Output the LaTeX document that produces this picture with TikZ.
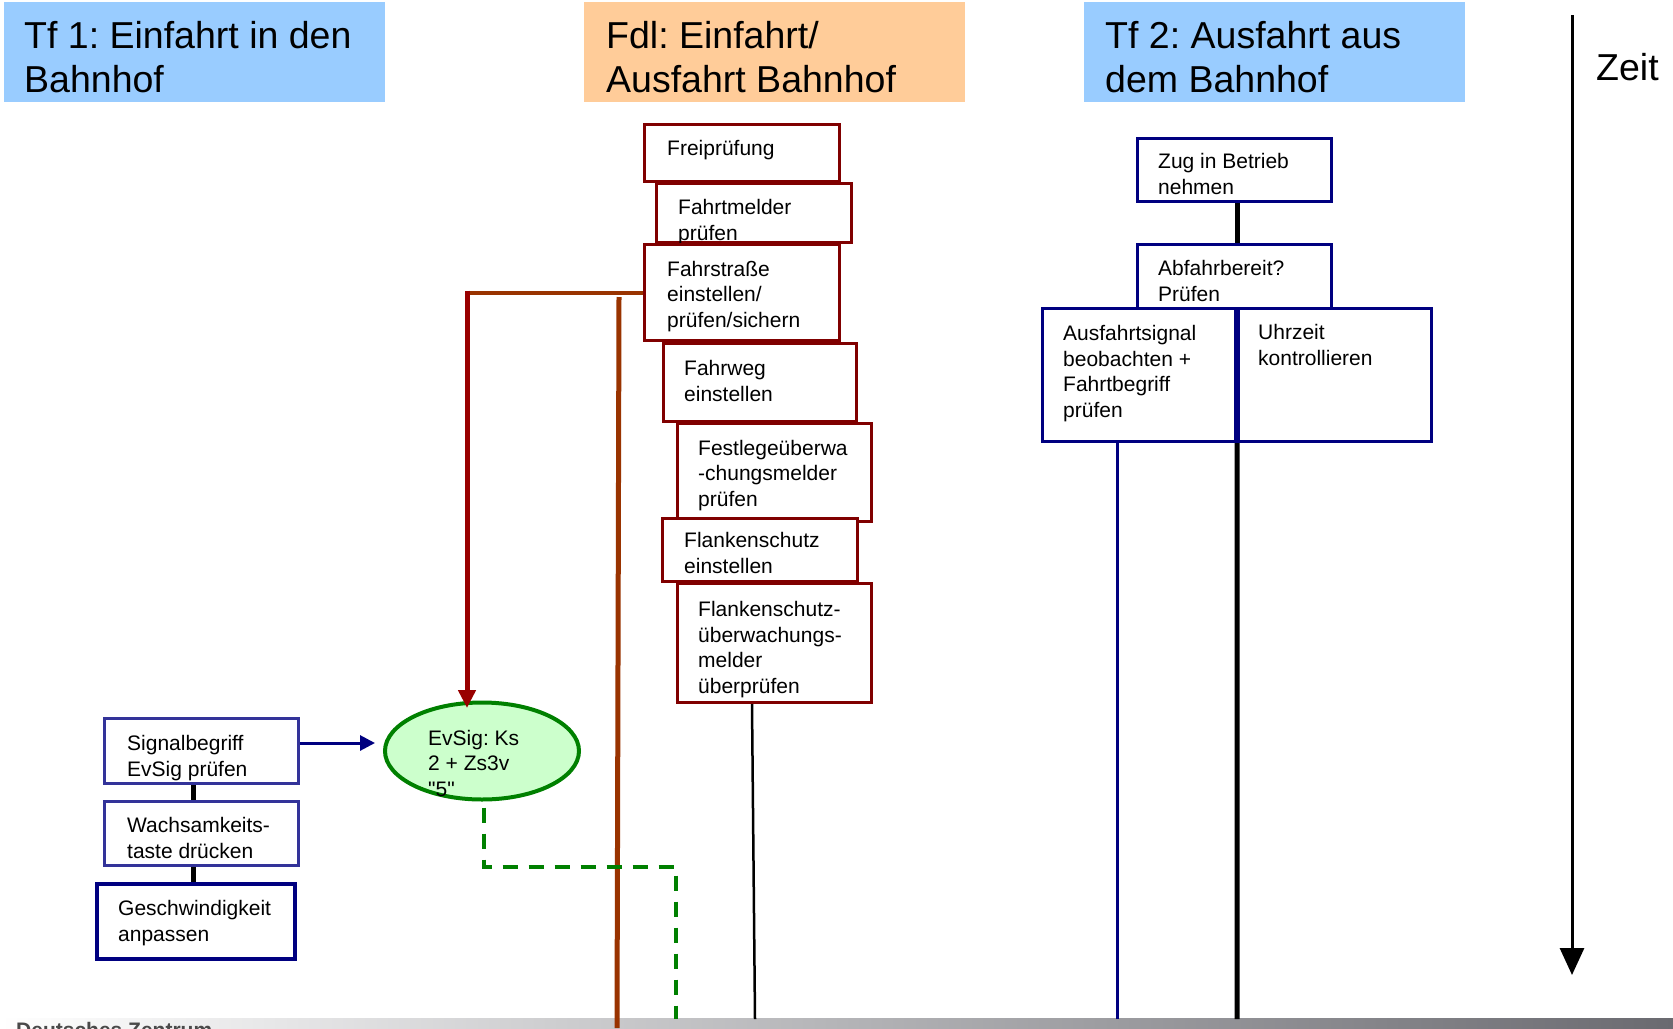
\documentclass[tikz,border=0pt]{standalone}
\usepackage{fontspec}
\setmainfont{Liberation Sans}
\newfontfamily\qfont{Liberation Sans}
\frenchspacing
\usetikzlibrary{arrows.meta,shapes.geometric}
\definecolor{hblue}{HTML}{99CCFF}
\definecolor{horange}{HTML}{FFCC99}
\definecolor{maroonc}{HTML}{800000}
\definecolor{navyc}{HTML}{000080}
\definecolor{lbluec}{HTML}{333399}
\definecolor{brownc}{HTML}{993300}
\definecolor{redc}{HTML}{990000}
\definecolor{greenc}{HTML}{008000}
\definecolor{lgreenc}{HTML}{CCFFCC}
\definecolor{footdark}{HTML}{6A6A70}
\definecolor{foottext}{HTML}{4A4A4A}
\begin{document}
\begin{tikzpicture}[x=1pt,y=-1pt,
  hdbox/.style={draw=none,inner sep=0pt,minimum width=381pt,minimum height=100pt},
  hdtxt/.style={anchor=base west,inner sep=0pt,align=left,font=\fontsize{37.5}{44}\selectfont\frenchspacing},
  txt/.style={anchor=base west,inner sep=0pt,align=left,font=\fontsize{21}{25.5}\selectfont\frenchspacing},
  fbox/.style={draw=maroonc,fill=white,line width=3.3pt,inner sep=0pt},
  tbox/.style={draw=navyc,fill=white,line width=3.3pt,inner sep=0pt},
  lbox/.style={draw=lbluec,fill=white,line width=3pt,inner sep=0pt},
  conn/.style={draw=black,line width=5pt}]
\useasboundingbox[fill=white] (0,0) rectangle (1673,1028);

% headers (text anchored at the baseline of the last line)
\node[hdbox,fill=hblue] (h1) at (194,52) {};
\node[hdtxt] (h1t) at (24,92) {Tf 1: Einfahrt in den\\Bahnhof};
\node[hdbox,fill=horange] (h2) at (774.5,52) {};
\node[hdtxt] (h2t) at (606,92) {Fdl: Einfahrt/\\Ausfahrt Bahnhof};
\node[hdbox,fill=hblue] (h3) at (1274.5,52) {};
\node[hdtxt] (h3t) at (1105,92) {Tf 2: Ausfahrt aus\\dem Bahnhof};

% time axis
\coordinate (zt) at (1572,15);
\coordinate (zb) at (1572,975);
\draw[line width=3pt,-{Triangle[length=27pt,width=24pt]}] (zt) -- (zb);
\node[hdtxt] (zeit) at (1596,80) {Zeit};

% footer
\shade[left color=white,right color=footdark] (0,1018) rectangle (1673,1028);
\node[anchor=base west,inner sep=0pt,font=\bfseries\fontsize{21}{25}\selectfont,text=foottext] (foot) at (16,1037) {Deutsches Zentrum};

% Fdl column
\node[fbox,minimum width=195pt,minimum height=57pt] (fr) at (742,153) {};
\node[txt] (frt) at (667,155) {Freiprüfung};
\node[fbox,minimum width=195pt,minimum height=59pt] (fm) at (754,213) {};
\node[txt] (fmt) at (678,240) {Fahrtmelder\\prüfen};
\node[fbox,minimum width=195pt,minimum height=96pt] (fs) at (742,292.5) {};
\node[txt] (fst) at (667,327) {Fahrstraße\\einstellen/\\prüfen/sichern};
\node[fbox,minimum width=193pt,minimum height=78pt] (fw) at (760,382.5) {};
\node[txt] (fwt) at (684,401) {Fahrweg\\einstellen};
\node[fbox,minimum width=194pt,minimum height=98pt] (fl) at (774.5,472.5) {};
\node[txt] (flt) at (698,506) {Festlegeüberwa\\-chungsmelder\\prüfen};
\node[fbox,minimum width=195pt,minimum height=63pt] (fe) at (760,550) {};
\node[txt] (fet) at (684,573) {Flankenschutz\\einstellen};
\node[fbox,minimum width=194pt,minimum height=119pt] (fu) at (774.5,643) {};
\node[txt] (fut) at (698,693) {Flankenschutz-\\überwachungs-\\melder\\überprüfen};

% Tf1 column
\node[ellipse,draw=greenc,fill=lgreenc,line width=4pt,minimum width=194pt,minimum height=97pt,inner sep=0pt] (ev) at (482,751) {};
\node[txt] (evt) at (428,796) {EvSig: Ks\\2 + Zs3v\\{\qfont "5"}};
\node[lbox,minimum width=194pt,minimum height=65pt] (sig) at (201.5,751) {};
\node[txt] (sigt) at (127,776) {Signalbegriff\\EvSig prüfen};
\node[lbox,minimum width=194pt,minimum height=64pt] (wach) at (201.5,833.5) {};
\node[txt] (wacht) at (127,858) {Wachsamkeits-\\taste drücken};
\node[lbox,draw=navyc,line width=4pt,minimum width=198pt,minimum height=75pt] (ges) at (196,921.5) {};
\node[txt] (gest) at (118,941) {Geschwindigkeit\\anpassen};
\draw[conn] ([xshift=-8.5pt]sig.south) -- ([xshift=-8.5pt]wach.north);
\draw[conn] ([xshift=-8.5pt]wach.south) -- ([xshift=-3pt]ges.north);
\draw[navyc,line width=3pt,-{Triangle[length=15pt,width=15pt]},shorten >=8pt]
  ([yshift=8pt]sig.east) -- ([yshift=8pt]sig.east -| ev.west);

% Tf2 column
\node[tbox,minimum width=194pt,minimum height=63pt] (zug) at (1234.5,170) {};
\node[txt] (zugt) at (1158,194) {Zug in Betrieb\\nehmen};
\node[tbox,minimum width=193pt,minimum height=133pt] (aus) at (1139,375) {};
\node[txt] (aust) at (1063,417) {Ausfahrtsignal\\beobachten +\\Fahrtbegriff\\prüfen};
\node[tbox,minimum width=193pt,minimum height=133pt] (uhr) at (1335,375) {};
\node[txt] (uhrt) at (1258,365) {Uhrzeit\\kontrollieren};
\node[tbox,minimum width=194pt,minimum height=64pt] (abf) at (1234.5,276.5) {};
\node[txt] (abft) at (1158,301) {Abfahrbereit?\\Prüfen};
\draw[conn] ([xshift=2.5pt]zug.south) -- ([xshift=2.5pt]abf.north);
\coordinate (b3) at (1117,1019);
\coordinate (b4) at (1237,1019);
\draw[navyc,line width=3pt] ([xshift=-22pt]aus.south) -- (b3);
\draw[line width=5pt] (aus.south east) -- (b4);

% Fdl lines
\coordinate (b1) at (755,1019);
\draw[line width=2.5pt] ([xshift=-22.5pt]fu.south) -- (b1);
\coordinate (rc) at (465,292.5);
\coordinate (rtip) at (467,708);
\draw[brownc,line width=4pt] (fs.west) -- (rc);
\draw[redc,line width=5pt,-{Triangle[length=18pt,width=17pt]}] ([xshift=2pt,yshift=2pt]rc) -- (rtip);
\coordinate (bt) at (619,297);
\coordinate (bb) at (617,1028);
\draw[brownc,line width=5pt] (bt) -- (bb);
\coordinate (gc) at (676,867);
\coordinate (gb) at (676,1019);
\draw[greenc,line width=3.5pt,dash pattern=on 15pt off 11pt] ([xshift=2pt,yshift=-6pt]ev.south) |- (gc) -- (gb);
\end{tikzpicture}
\end{document}
